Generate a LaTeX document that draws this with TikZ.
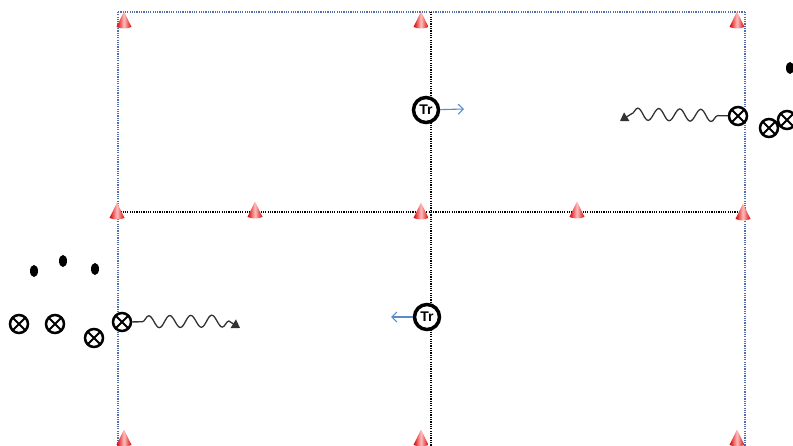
\documentclass[tikz,border=0pt]{standalone}
\usepackage{fontspec}
\setsansfont{Liberation Sans}
\usetikzlibrary{arrows.meta,decorations.pathmorphing,shapes.geometric}
\definecolor{gridblue}{RGB}{80,110,170}
\definecolor{wavegray}{RGB}{50,50,50}
\definecolor{arrblue}{RGB}{90,140,200}
\tikzset{
  bluedot/.style={draw=gridblue,line width=1.3pt,dash pattern=on 1.2pt off 1.1pt},
  blackdot/.style={draw=black,line width=1.3pt,dash pattern=on 1.2pt off 1.1pt},
  trnode/.style={circle,draw=black,line width=3.5pt,fill=white,minimum size=25pt,inner sep=0pt,
    font=\sffamily\bfseries\fontsize{14}{14}\selectfont},
  player/.style={circle,draw=black,line width=2.5pt,fill=white,minimum size=18pt,inner sep=0pt,
    path picture={\draw[line width=2pt] (path picture bounding box.north west) -- (path picture bounding box.south east)
      (path picture bounding box.north east) -- (path picture bounding box.south west);}},
  ball/.style={ellipse,fill=black,minimum width=8pt,minimum height=12pt,inner sep=0pt},
  movearrow/.style={draw=arrblue,line width=1.1pt,-{Straight Barb[length=5pt,width=10pt]}},
  wave/.style={draw=wavegray,line width=1.3pt,-{Triangle[length=8pt,width=10pt]},decorate,
    decoration={snake,segment length=21pt,amplitude=6pt,pre length=10pt,post length=9pt}},
  pics/cone/.style={code={
    \shade[left color=red!85!black,right color=red!85!black,middle color=red!25]
      (-7.5,7) -- (0,-8.5) -- (7.5,7) .. controls (3,9) and (-3,9) .. cycle;}}
}
\begin{document}
\begin{tikzpicture}[x=1pt,y=-1pt]
\useasboundingbox (0,0) rectangle (793,446);
% field lines
\draw[bluedot] (118,12) -- (745,12);
\draw[bluedot] (118,12) -- (118,446);
\draw[bluedot] (745,12) -- (745,446);
\draw[blackdot] (431,12) -- (431,446);
\draw[blackdot] (118,212) -- (745,212);
% cones
\foreach \cx/\cy in {124/20,421/20,737/20,117/211,255/210,421/211,577/210,743/212,124/438,421/438,737/438}
  \pic at (\cx,\cy) {cone};
% trainers
\node[trnode] (tr1) at (426,110) {Tr};
\coordinate (tr1end) at (464,109);
\draw[movearrow] (tr1) -- (tr1end);
\node[trnode] (tr2) at (427,317) {Tr};
\coordinate (tr2end) at (391,317);
\draw[movearrow] (tr2) -- (tr2end);
% balls
\node[ball] (b1) at (34,271) {};
\node[ball] (b2) at (63,261) {};
\node[ball] (b3) at (95,269) {};
\node[ball] (b4) at (790,68) {};
% players
\node[player] (p1) at (19,324) {};
\node[player] (p2) at (55,324) {};
\node[player] (p3) at (94,338) {};
\node[player] (p4) at (122,322) {};
\node[player] (p5) at (738,116) {};
\node[player] (p6) at (769,128) {};
\node[player] (p7) at (787,120) {};
% dribbles
\coordinate (d1bend) at (232,321);
\coordinate (d1end) at (240,328);
\draw[wave] (p4) -- (d1bend) -- (d1end);
\coordinate (d2bend) at (628,114);
\coordinate (d2end) at (620,121);
\draw[wave] (p5) -- (d2bend) -- (d2end);
\end{tikzpicture}
\end{document}
